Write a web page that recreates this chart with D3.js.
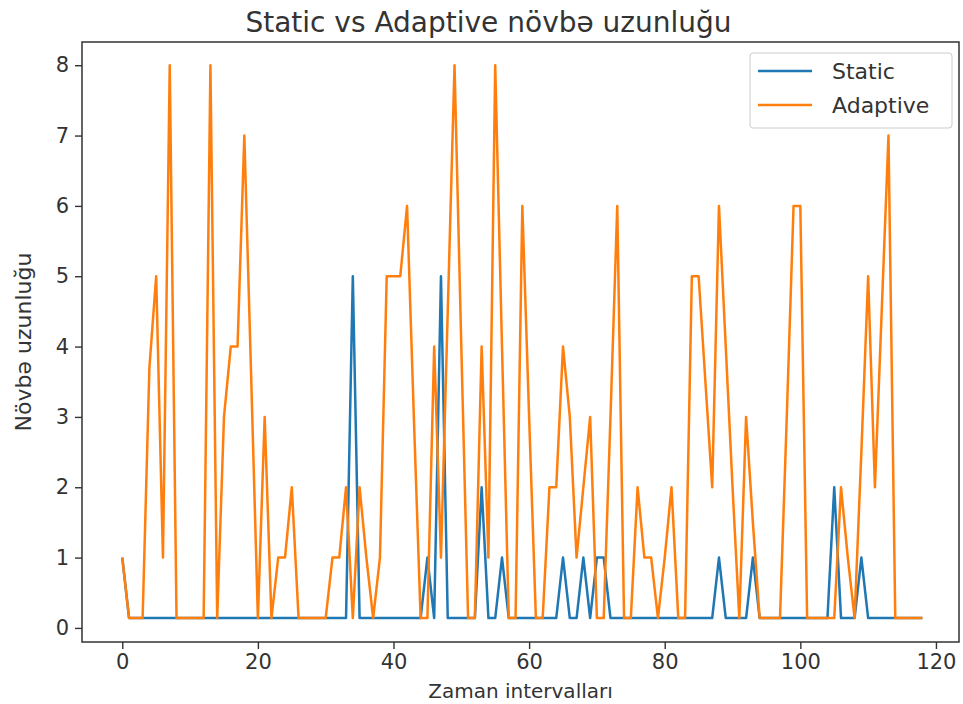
<!DOCTYPE html>
<html>
<head>
<meta charset="utf-8">
<title>Static vs Adaptive</title>
<script src="https://d3js.org/d3.v7.min.js"></script>
<style>
  body { margin: 0; background: #fff; }
  text { font-family: "DejaVu Sans", sans-serif; fill: #333; }
</style>
</head>
<body>
<svg id="chart"></svg>
<script>
// data (low value ~0.14 is where the lines sit)
let B = 0.14;
let staticQueue = [
  1, B, B, B, B, B, B, B, B, B,
  B, B, B, B, B, B, B, B, B, B,
  B, B, B, B, B, B, B, B, B, B,
  B, B, B, B, 5, B, B, B, B, B,
  B, B, B, B, B, 1, B, 5, B, B,
  B, B, B, 2, B, B, 1, B, B, B,
  B, B, B, B, B, 1, B, B, 1, B,
  1, 1, B, B, B, B, B, B, B, B,
  B, B, B, B, B, B, B, B, 1, B,
  B, B, B, 1, B, B, B, B, B, B,
  B, B, B, B, B, 2, B, B, B, 1,
  B, B, B, B, B, B, B, B, B
];
let adaptiveQueue = [
  1, B, B, B, 3.7, 5, 1, 8, B, B,
  B, B, B, 8, B, 3, 4, 4, 7, 3.6,
  B, 3, B, 1, 1, 2, B, B, B, B,
  B, 1, 1, 2, B, 2, 1, B, 1, 5,
  5, 5, 6, 3, B, B, 4, 1, 4.5, 8,
  4, B, B, 4, 1, 8, 4, B, B, 6,
  3, B, B, 2, 2, 4, 3, 1, 2, 3,
  B, B, 3, 6, B, B, 2, 1, 1, B,
  1, 2, B, B, 5, 5, 3.5, 2, 6, 4,
  2, B, 3, 1.5, B, B, B, B, 3, 6,
  6, B, B, B, B, B, 2, 1, B, 2.5,
  5, 2, 4.5, 7, B, B, B, B, B
];
let seriesNames = ['Static', 'Adaptive'];
let seriesColors = ['#1f77b4', '#ff7f0e'];
let xTicks = [0, 20, 40, 60, 80, 100, 120];
let yTicks = [0, 1, 2, 3, 4, 5, 6, 7, 8];

let width = 963, height = 704;
let plot = { left: 82, top: 42, right: 959, bottom: 642 };

let svg = d3.select('#chart').attr('width', width).attr('height', height);

let x = d3.scaleLinear().domain([-5.94, 123.4]).range([plot.left, plot.right]);
let y = d3.scaleLinear().domain([-0.2, 8.33]).range([plot.bottom, plot.top]);

// axes
let xAxis = svg.append('g')
  .attr('transform', translate(0, plot.bottom))
  .call(d3.axisBottom(x).tickValues(xTicks).tickFormat(d3.format('d')).tickSize(7).tickPadding(5));
let yAxis = svg.append('g')
  .attr('transform', translate(plot.left, 0))
  .call(d3.axisLeft(y).tickValues(yTicks).tickFormat(d3.format('d')).tickSize(7).tickPadding(6));

[xAxis, yAxis].forEach(function(ax) {
  ax.select('.domain').remove();
  ax.selectAll('line').attr('stroke', '#333').attr('stroke-width', 1.4);
  ax.selectAll('text').style('font-size', '21px').style('font-family', '"DejaVu Sans", sans-serif').attr('fill', '#333');
});

// lines
let line = d3.line().x((d, i) => x(i)).y(d => y(d));
[staticQueue, adaptiveQueue].forEach(function(series, k) {
  svg.append('path')
    .datum(series)
    .attr('fill', 'none')
    .attr('stroke', seriesColors[k])
    .attr('stroke-width', 2.5)
    .attr('stroke-linejoin', 'round')
    .attr('d', line);
});

// frame
svg.append('rect')
  .attr('x', plot.left).attr('y', plot.top)
  .attr('width', plot.right - plot.left).attr('height', plot.bottom - plot.top)
  .attr('fill', 'none').attr('stroke', '#333').attr('stroke-width', 1.5);

// title and labels
svg.append('text')
  .attr('x', (plot.left + plot.right) / 2 - 32).attr('y', 32)
  .attr('text-anchor', 'middle').style('font-size', '28px')
  .text('Static vs Adaptive növbə uzunluğu');

svg.append('text')
  .attr('x', (plot.left + plot.right) / 2).attr('y', 698)
  .attr('text-anchor', 'middle').style('font-size', '20px')
  .text('Zaman intervalları');

svg.append('text')
  .attr('transform', translate(31, (plot.top + plot.bottom) / 2) + ' rotate(-90)')
  .attr('text-anchor', 'middle').style('font-size', '22px')
  .text('Növbə uzunluğu');

// legend
let legend = svg.append('g').attr('transform', translate(750, 53));
legend.append('rect')
  .attr('width', 202).attr('height', 75).attr('rx', 3)
  .attr('fill', '#fff').attr('fill-opacity', 0.8)
  .attr('stroke', '#ccc').attr('stroke-width', 1);
seriesNames.forEach(function(name, k) {
  let yy = 18 + k * 34;
  legend.append('line')
    .attr('x1', 8).attr('x2', 62).attr('y1', yy).attr('y2', yy)
    .attr('stroke', seriesColors[k]).attr('stroke-width', 2.5);
  legend.append('text')
    .attr('x', 82).attr('y', yy + 8)
    .style('font-size', '22px')
    .text(name);
});

// helper method to make translating easier
function translate(x, y) {
  return 'translate(' + x + ',' + y + ')';
}
</script>
</body>
</html>
